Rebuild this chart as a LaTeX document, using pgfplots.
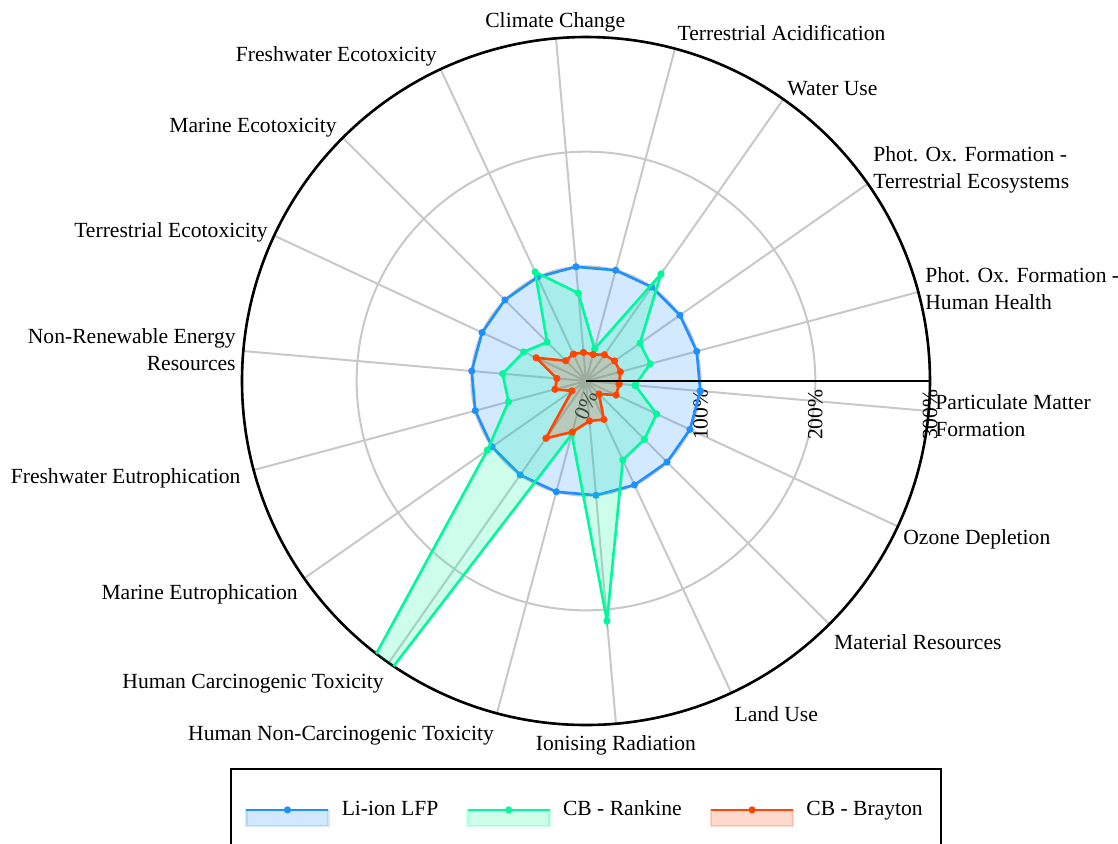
\documentclass[border=0pt]{standalone}
\usepackage{fontspec}
\setmainfont{Liberation Serif}
\usepackage{graphicx}
\usepackage{pgfplots}
\pgfplotsset{compat=1.18}
\usepgfplotslibrary{polar}
\definecolor{lfpblue}{RGB}{30,144,255}
\definecolor{rankgreen}{RGB}{0,250,154}
\definecolor{braytonred}{RGB}{255,69,0}
\definecolor{gridgray}{RGB}{200,200,200}
\pgfplotsset{radarleg/.style={legend image code/.code={
   \fill[#1, opacity=0.2] (0pt,-8pt) rectangle (41pt,0pt);
   \draw[#1, line width=1.3pt] (0pt,0pt) -- (41pt,0pt);
   \fill[#1] (20.5pt,0pt) circle (1.1pt);}}}
\begin{document}
\fontsize{10.8}{13.5}\selectfont
\begin{tikzpicture}
\begin{polaraxis}[
  at={(0,0)}, anchor=center,
  scale only axis, width=344pt, height=344pt,
  xmin=0, xmax=360, ymin=0, ymax=300,
  xtick={15,35,...,355},
  xticklabels={,,,,,,,,,,,,,,,,,,},
  ytick={0,100,200,300},
  yticklabels={\rotatebox{-25}{0\%},100\%,200\%,300\%},
  yticklabel style={rotate=90, anchor=east, inner ysep=0pt, inner xsep=4pt},
  major tick length=0pt,
  grid=major,
  major grid style={gridgray, line width=1pt},
  axis line style={black, line width=1.3pt},
  clip mode=individual,
  legend columns=3,
  legend style={at={(0.5,-0.0625)}, anchor=north, draw=black, line width=0.75pt,
    inner xsep=7pt, inner ysep=14pt,
    /tikz/every odd column/.append style={column sep=4pt},
    /tikz/every even column/.append style={column sep=12pt}},
]
\addplot[radarleg=lfpblue, draw=lfpblue, fill=lfpblue, fill opacity=0.2, line width=1.3pt,
  mark=*, mark size=1.1pt, mark options={fill=lfpblue, fill opacity=1}] coordinates {
  (-5,100) (15,100) (35,100) (55,100) (75,100) (95,100) (115,100) (135,100) (155,100)
  (175,100) (195,100) (215,100) (235,100) (255,100) (275,100) (295,100) (315,100) (335,100) (355,100)};
\addlegendentry{Li-ion LFP}
\addplot[radarleg=rankgreen, draw=rankgreen, fill=rankgreen, fill opacity=0.2, line width=1.3pt,
  mark=*, mark size=1.1pt, mark options={fill=rankgreen, fill opacity=1}] coordinates {
  (-5,43) (15,58) (35,57.5) (55,114) (75,29) (95,77) (115,105) (135,48) (155,60)
  (175,73) (195,70) (215,105) (235,420) (255,48) (275,210) (295,76) (315,72) (335,68) (355,43)};
\addlegendentry{CB - Rankine}
\addplot[radarleg=braytonred, draw=braytonred, fill=braytonred, fill opacity=0.2, line width=1.3pt,
  mark=*, mark size=1.1pt, mark options={fill=braytonred, fill opacity=1}] coordinates {
  (-5,29) (15,31) (35,30.5) (55,28) (75,24) (95,25) (115,26) (135,25) (155,48)
  (175,25.5) (195,28) (215,15) (235,61) (255,46) (275,35) (295,37) (315,16) (335,29) (355,29)};
\addlegendentry{CB - Brayton}
\draw[black, line width=1.2pt] (axis cs:0,0) -- (axis cs:0,300);
\begin{scope}[every node/.style={inner sep=0pt}]
\node[anchor=west, align=left] at (axis cs:-5.7,305.9) {Particulate Matter\\Formation};
\node[anchor=west, align=left] at (axis cs:15.3,306.5) {Phot. Ox. Formation -\\Human Health};
\node[anchor=west, align=left] at (axis cs:36.3,310.5) {Phot. Ox. Formation -\\Terrestrial Ecosystems};
\node[anchor=west] at (axis cs:55.5,309.6) {Water Use};
\node[anchor=west] at (axis cs:75.3,313.7) {Terrestrial Acidification};
\node[anchor=center] at (axis cs:94.9,314.2) {Climate Change};
\node[anchor=east] at (axis cs:114.6,311.8) {Freshwater Ecotoxicity};
\node[anchor=east] at (axis cs:134.5,309.6) {Marine Ecotoxicity};
\node[anchor=east] at (axis cs:155,305.9) {Terrestrial Ecotoxicity};
\node[anchor=east, align=right] at (axis cs:174.8,306.5) {Non-Renewable Energy\\Resources};
\node[anchor=east] at (axis cs:195.7,312.6) {Freshwater Eutrophication};
\node[anchor=east] at (axis cs:216.5,312.4) {Marine Eutrophication};
\node[anchor=east] at (axis cs:236.3,317.4) {Human Carcinogenic Toxicity};
\node[anchor=east] at (axis cs:255.5,319.8) {Human Non-Carcinogenic Toxicity};
\node[anchor=center] at (axis cs:274.7,318.5) {Ionising Radiation};
\node[anchor=west] at (axis cs:294,317.8) {Land Use};
\node[anchor=west] at (axis cs:313.5,314) {Material Resources};
\node[anchor=west] at (axis cs:333.5,308.9) {Ozone Depletion};
\end{scope}
\end{polaraxis}
\pgfresetboundingbox
\useasboundingbox (-293pt,-231pt) rectangle (266pt,190.5pt);
\end{tikzpicture}
\end{document}
